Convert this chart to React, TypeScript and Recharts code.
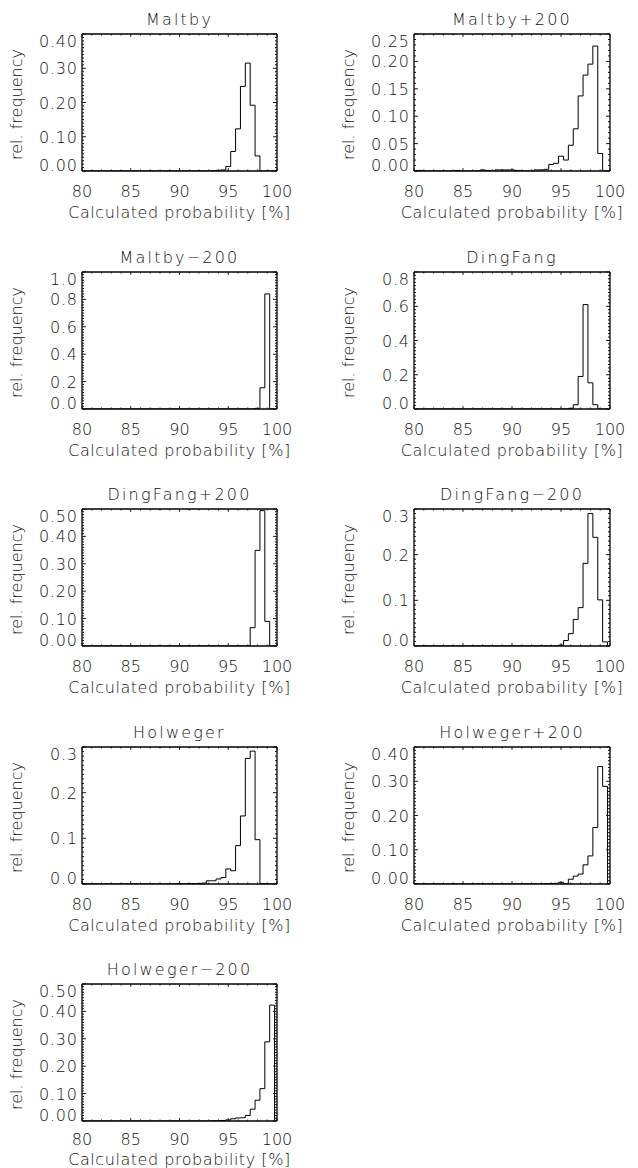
import React from "react";
import { LineChart, Line, XAxis, YAxis } from "recharts";

// Bin centres of the histograms (calculated probability, %)
const BIN_CENTERS = [
  80, 80.5, 81, 81.5, 82, 82.5, 83, 83.5, 84, 84.5,
  85, 85.5, 86, 86.5, 87, 87.5, 88, 88.5, 89, 89.5,
  90, 90.5, 91, 91.5, 92, 92.5, 93, 93.5, 94, 94.5,
  95, 95.5, 96, 96.5, 97, 97.5, 98, 98.5, 99, 99.5,
  100,
];

const TITLES = [
  "Maltby", "Maltby+200", "Maltby\u2212200", "DingFang", "DingFang+200",
  "DingFang\u2212200", "Holweger", "Holweger+200", "Holweger\u2212200",
];

const MALTBY = [
  0, 0, 0, 0, 0, 0, 0, 0, 0, 0,
  0, 0, 0, 0, 0, 0, 0, 0, 0, 0,
  0, 0, 0, 0, 0, 0, 0, 0.001, 0.002, 0.003,
  0.013, 0.057, 0.123, 0.247, 0.315, 0.192, 0.044, 0, 0, 0,
  0,
];
const MALTBY_P200 = [
  0, 0.001, 0, 0, 0, 0, 0, 0, 0, 0.001,
  0, 0, 0, 0, 0.002, 0.001, 0, 0.002, 0.002, 0.002,
  0.002, 0.001, 0, 0, 0, 0.002, 0.002, 0.003, 0.012, 0.014,
  0.027, 0.02, 0.047, 0.077, 0.137, 0.175, 0.195, 0.228, 0.032, 0,
  0,
];
const MALTBY_M200 = [
  0, 0, 0, 0, 0, 0, 0, 0, 0, 0,
  0, 0, 0, 0, 0, 0, 0, 0, 0, 0,
  0, 0, 0, 0, 0, 0, 0, 0, 0, 0,
  0, 0, 0, 0, 0, 0, 0.005, 0.155, 0.84, 0,
  0,
];
const DINGFANG = [
  0, 0, 0, 0, 0, 0, 0, 0, 0, 0,
  0, 0, 0, 0, 0, 0, 0, 0, 0, 0,
  0, 0, 0, 0, 0, 0, 0, 0, 0, 0,
  0, 0, 0.004, 0.025, 0.19, 0.61, 0.153, 0.025, 0, 0,
  0,
];
const DINGFANG_P200 = [
  0, 0, 0, 0, 0, 0, 0, 0, 0, 0,
  0, 0, 0, 0, 0, 0, 0, 0, 0, 0,
  0, 0, 0, 0, 0, 0, 0, 0, 0, 0,
  0, 0, 0, 0, 0, 0.067, 0.349, 0.494, 0.09, 0,
  0,
];
const DINGFANG_M200 = [
  0, 0, 0, 0, 0, 0, 0, 0, 0, 0,
  0, 0, 0, 0, 0, 0, 0, 0, 0, 0,
  0, 0, 0, 0, 0, 0, 0, 0, 0, 0,
  0.002, 0.012, 0.027, 0.058, 0.084, 0.181, 0.29, 0.238, 0.101, 0.009,
  0,
];
const HOLWEGER = [
  0, 0, 0, 0, 0, 0, 0, 0, 0, 0,
  0, 0, 0, 0, 0, 0, 0, 0, 0, 0,
  0.001, 0, 0.001, 0.001, 0.001, 0.002, 0.007, 0.007, 0.011, 0.014,
  0.033, 0.029, 0.084, 0.149, 0.275, 0.291, 0.097, 0.001, 0, 0,
  0,
];
const HOLWEGER_P200 = [
  0, 0, 0, 0, 0, 0, 0, 0, 0, 0,
  0, 0, 0, 0, 0, 0, 0, 0, 0, 0,
  0, 0, 0, 0, 0, 0, 0, 0.001, 0.001, 0.002,
  0.005, 0.001, 0.014, 0.023, 0.029, 0.056, 0.082, 0.165, 0.343, 0.285,
  0,
];
const HOLWEGER_M200 = [
  0, 0, 0, 0, 0, 0, 0, 0, 0, 0,
  0, 0, 0, 0, 0, 0, 0, 0, 0, 0,
  0, 0, 0, 0, 0, 0, 0, 0.001, 0.001, 0.002,
  0.004, 0.008, 0.011, 0.012, 0.02, 0.043, 0.076, 0.118, 0.289, 0.423,
  0,
];

const X_TICK_LABELS = ["80", "85", "90", "95", "100"];
const Y_LABELS_MALTBY = ["0.00", "0.10", "0.20", "0.30", "0.40"];
const Y_LABELS_MALTBY_P200 = ["0.00", "0.05", "0.10", "0.15", "0.20", "0.25"];
const Y_LABELS_MALTBY_M200 = ["0.0", "0.2", "0.4", "0.6", "0.8", "1.0"];
const Y_LABELS_DINGFANG = ["0.0", "0.2", "0.4", "0.6", "0.8"];
const Y_LABELS_DINGFANG_P200 = ["0.00", "0.10", "0.20", "0.30", "0.40", "0.50"];
const Y_LABELS_DINGFANG_M200 = ["0.0", "0.1", "0.2", "0.3"];
const Y_LABELS_HOLWEGER = ["0.0", "0.1", "0.2", "0.3"];
const Y_LABELS_HOLWEGER_P200 = ["0.00", "0.10", "0.20", "0.30", "0.40"];
const Y_LABELS_HOLWEGER_M200 = ["0.00", "0.10", "0.20", "0.30", "0.40", "0.50"];

const X_AXIS_TITLE = "Calculated probability [%]";
const Y_AXIS_TITLE = "rel. frequency";

type Panel = { title: string; values: number[]; yLabels: string[]; ySub: number };

const PANELS: Panel[] = [
  { title: TITLES[0], values: MALTBY, yLabels: Y_LABELS_MALTBY, ySub: 10 },
  { title: TITLES[1], values: MALTBY_P200, yLabels: Y_LABELS_MALTBY_P200, ySub: 5 },
  { title: TITLES[2], values: MALTBY_M200, yLabels: Y_LABELS_MALTBY_M200, ySub: 10 },
  { title: TITLES[3], values: DINGFANG, yLabels: Y_LABELS_DINGFANG, ySub: 10 },
  { title: TITLES[4], values: DINGFANG_P200, yLabels: Y_LABELS_DINGFANG_P200, ySub: 10 },
  { title: TITLES[5], values: DINGFANG_M200, yLabels: Y_LABELS_DINGFANG_M200, ySub: 10 },
  { title: TITLES[6], values: HOLWEGER, yLabels: Y_LABELS_HOLWEGER, ySub: 10 },
  { title: TITLES[7], values: HOLWEGER_P200, yLabels: Y_LABELS_HOLWEGER_P200, ySub: 10 },
  { title: TITLES[8], values: HOLWEGER_M200, yLabels: Y_LABELS_HOLWEGER_M200, ySub: 10 },
];

// layout
const COL_LEFT = [82, 414];
const PLOT_W = [195, 196];
const ROW_TOP = [34, 272, 509, 747, 984];
const PLOT_H = 137;
const ML = 82;
const MR = 30;
const MT = 34;
const MB = 56;
const AX = 1; // thickness reserved by each axis box

const FONT = "'DejaVu Sans', 'Liberation Sans', sans-serif";
const WEIGHT = 200;
const INK = "#111";
const AXIS_LINE = { stroke: "#000", strokeWidth: 1.3 };

const X_MAJORS = X_TICK_LABELS.map(Number);
const X_TICKS: number[] = [];
for (let v = 80; v <= 100; v += 1) X_TICKS.push(v);

function findMajor(v: number, majors: number[]) {
  return majors.findIndex((m) => Math.abs(m - v) < 1e-7);
}

function buildYTicks(majors: number[], sub: number) {
  const step = (majors[1] - majors[0]) / sub;
  const n = Math.round((majors[majors.length - 1] - majors[0]) / step);
  const out: number[] = [];
  for (let k = 0; k <= n; k++) out.push(Math.round((majors[0] + k * step) * 1e6) / 1e6);
  return out;
}

const makeXTick = (side: "bottom" | "top", labels: string[], labelOffset: number) => (props: any) => {
  const { x, y, payload } = props;
  const mi = findMajor(payload.value, X_MAJORS);
  const len = mi >= 0 ? 2.8 : 1.5;
  const dir = side === "bottom" ? -1 : 1;
  return (
    <g>
      <line x1={x} y1={y} x2={x} y2={y + dir * len} stroke={INK} strokeWidth={1} />
      {side === "bottom" && mi >= 0 ? (
        <text
          x={x}
          y={y + labelOffset}
          textAnchor="middle"
          fontFamily={FONT}
          fontWeight={WEIGHT}
          fontSize={16}
          fill={INK}
        >
          {labels[mi]}
        </text>
      ) : null}
    </g>
  );
};

const makeYTick = (side: "left" | "right", majors: number[], labels: string[]) => (props: any) => {
  const { x, y, payload } = props;
  const mi = findMajor(payload.value, majors);
  const len = mi >= 0 ? 3.9 : 2;
  const dir = side === "left" ? 1 : -1;
  let dy = 6;
  if (mi === 0) dy = 0;
  else if (mi === majors.length - 1) dy = 12.5;
  return (
    <g>
      <line x1={x} y1={y} x2={x + dir * len} y2={y} stroke={INK} strokeWidth={1} />
      {side === "left" && mi >= 0 ? (
        <text
          x={x - 4.2}
          y={y + dy}
          textAnchor="end"
          fontFamily={FONT}
          fontWeight={WEIGHT}
          fontSize={16}
          letterSpacing={0.8}
          fill={INK}
        >
          {labels[mi]}
        </text>
      ) : null}
    </g>
  );
};

function HistPanel({ panel, col, row }: { panel: Panel; col: number; row: number }) {
  const plotW = PLOT_W[col];
  const left = COL_LEFT[col] - ML;
  const top = ROW_TOP[row] - MT;
  const W = ML + plotW + MR;
  const H = MT + PLOT_H + MB;
  const data = BIN_CENTERS.map((x, i) => ({ x, v: panel.values[i] }));
  const majors = panel.yLabels.map(Number);
  const yDomain = [majors[0], majors[majors.length - 1]];
  const yTicks = buildYTicks(majors, panel.ySub);
  const cx = ML + plotW / 2;
  const yLabelX = ML - 60;
  const yLabelY = MT + PLOT_H / 2 + 2;
  const isLastRow = row === ROW_TOP.length - 1;
  const xTickOffset = isLastRow ? 24 : 26;
  const xTitleY = MT + PLOT_H + (isLastRow ? 43.5 : 47);

  const common = {
    allowDataOverflow: true,
    interval: 0 as const,
    tickSize: 0,
    tickMargin: 0,
    tickLine: false,
    axisLine: AXIS_LINE,
  };

  return (
    <div style={{ position: "absolute", left, top, width: W, height: H }}>
      <LineChart
        width={W}
        height={H}
        data={data}
        margin={{ top: MT - AX, right: MR - AX, bottom: MB - AX, left: ML - AX }}
      >
        <XAxis
          {...common}
          xAxisId="b"
          dataKey="x"
          type="number"
          domain={[80, 100]}
          ticks={X_TICKS}
          height={AX}
          tick={makeXTick("bottom", X_TICK_LABELS, xTickOffset)}
        />
        <XAxis
          {...common}
          xAxisId="t"
          orientation="top"
          dataKey="x"
          type="number"
          domain={[80, 100]}
          ticks={X_TICKS}
          height={AX}
          tick={makeXTick("top", X_TICK_LABELS, xTickOffset)}
        />
        <YAxis
          {...common}
          yAxisId="l"
          type="number"
          domain={yDomain}
          ticks={yTicks}
          width={AX}
          tick={makeYTick("left", majors, panel.yLabels)}
        />
        <YAxis
          {...common}
          yAxisId="r"
          orientation="right"
          type="number"
          domain={yDomain}
          ticks={yTicks}
          width={AX}
          tick={makeYTick("right", majors, panel.yLabels)}
        />
        <Line
          xAxisId="b"
          yAxisId="l"
          dataKey="v"
          type="step"
          stroke="#000"
          strokeWidth={1}
          dot={false}
          isAnimationActive={false}
        />
      </LineChart>
      <svg
        width={W}
        height={H}
        style={{ position: "absolute", left: 0, top: 0, overflow: "visible", pointerEvents: "none" }}
      >
        <text
          x={cx}
          y={MT - 9.5}
          textAnchor="middle"
          fontFamily={FONT}
          fontWeight={WEIGHT}
          fontSize={16}
          letterSpacing={2.2}
          fill={INK}
        >
          {panel.title}
        </text>
        <text
          x={cx}
          y={xTitleY}
          textAnchor="middle"
          fontFamily={FONT}
          fontWeight={WEIGHT}
          fontSize={16}
          letterSpacing={0.55}
          fill={INK}
        >
          {X_AXIS_TITLE}
        </text>
        <text
          x={yLabelX}
          y={yLabelY}
          textAnchor="middle"
          fontFamily={FONT}
          fontWeight={WEIGHT}
          fontSize={16}
          fill={INK}
          transform={`rotate(-90, ${yLabelX}, ${yLabelY})`}
        >
          {Y_AXIS_TITLE}
        </text>
      </svg>
    </div>
  );
}

export default function App() {
  return (
    <div
      style={{
        position: "absolute",
        left: 0,
        top: 0,
        width: 638,
        height: 1168,
        overflow: "hidden",
        background: "#fff",
      }}
    >
      {PANELS.map((p, i) => (
        <HistPanel key={i} panel={p} col={i % 2} row={Math.floor(i / 2)} />
      ))}
    </div>
  );
}
